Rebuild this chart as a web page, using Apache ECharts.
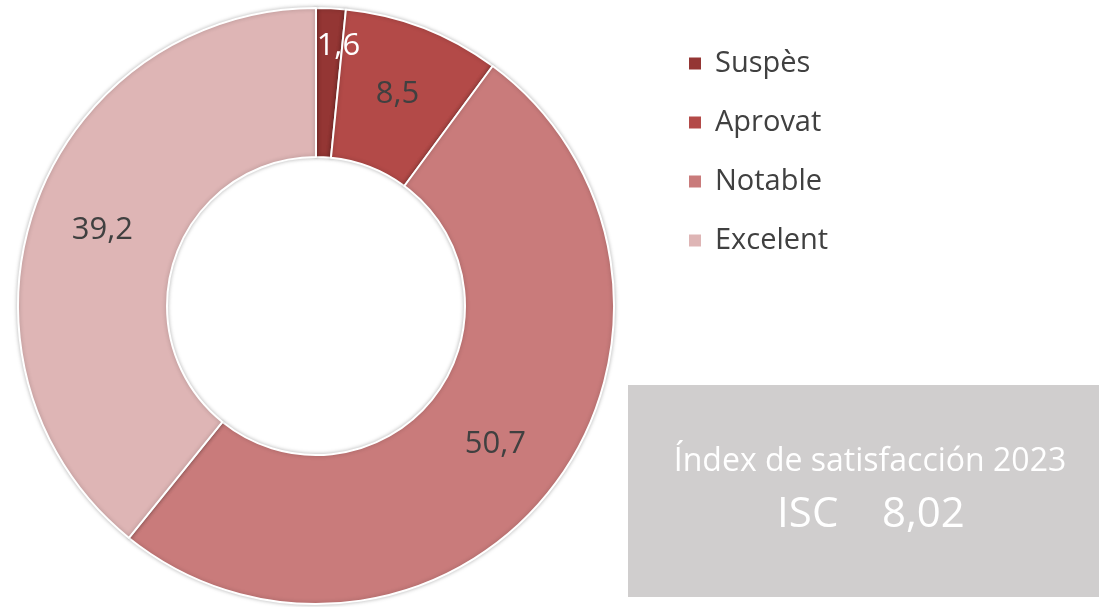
<!DOCTYPE html>
<html>
<head>
<meta charset="utf-8">
<script src="https://cdn.jsdelivr.net/npm/echarts@6/dist/echarts.min.js"></script>
<style>
  html, body { margin: 0; padding: 0; background: #fff; }
  #chart { width: 1099px; height: 607px; }
</style>
</head>
<body>
<div id="chart"></div>
<script>
// categories and values
const categories = ['Suspès', 'Aprovat', 'Notable', 'Excelent'];
const values = [1.6, 8.5, 50.7, 39.2];
const colors = ['#943634', '#B34A48', '#C97B7B', '#DEB5B5'];
const labelColors = ['#ffffff', '#404040', '#404040', '#404040'];
const boxTitle = 'Índex de satisfacción 2023';
const boxValue = 'ISC    8,02';

const fontFamily = '"Open Sans", "Noto Sans", sans-serif';

const chart = echarts.init(document.getElementById('chart'));

const option = {
    animation: false,
    color: colors,
    legend: {
        orient: 'vertical',
        left: 682,
        top: 44,
        icon: 'rect',
        itemWidth: 14,
        itemHeight: 14,
        itemGap: 30,
        data: categories,
        textStyle: { color: '#404040', fontSize: 29, fontFamily: fontFamily, padding: [0, 0, 0, 8] }
    },
    graphic: [
        {
            type: 'rect',
            shape: { x: 628, y: 385, width: 471, height: 212 },
            style: { fill: '#D0CECE' },
            z: 0
        },
        {
            type: 'text',
            x: 870,
            y: 462,
            style: {
                text: boxTitle,
                fill: '#ffffff',
                font: '32px ' + fontFamily,
                textAlign: 'center',
                textVerticalAlign: 'middle'
            }
        },
        {
            type: 'text',
            x: 871,
            y: 515,
            style: {
                text: boxValue,
                fill: '#ffffff',
                font: '42px ' + fontFamily,
                textAlign: 'center',
                textVerticalAlign: 'middle'
            }
        }
    ],
    series: [
        {
            type: 'pie',
            center: [316, 306],
            radius: [149, 298],
            startAngle: 90,
            clockwise: true,
            avoidLabelOverlap: false,
            itemStyle: {
                borderColor: '#ffffff',
                borderWidth: 2,
                shadowBlur: 4,
                shadowColor: 'rgba(0,0,0,0.25)'
            },
            label: {
                show: true,
                position: 'inside',
                fontSize: 31,
                fontFamily: fontFamily,
                formatter: (p) => String(p.value).replace('.', ',')
            },
            labelLine: { show: false },
            labelLayout: (params) => {
                // the small first slice keeps its label near the outer edge
                if (params.dataIndex === 0) {
                    return { dx: 11, dy: -34 };
                }
                return {};
            },
            emphasis: { disabled: true },
            data: categories.map((name, i) => ({
                name: name,
                value: values[i],
                label: { color: labelColors[i] }
            }))
        }
    ]
};

chart.setOption(option);
</script>
</body>
</html>
